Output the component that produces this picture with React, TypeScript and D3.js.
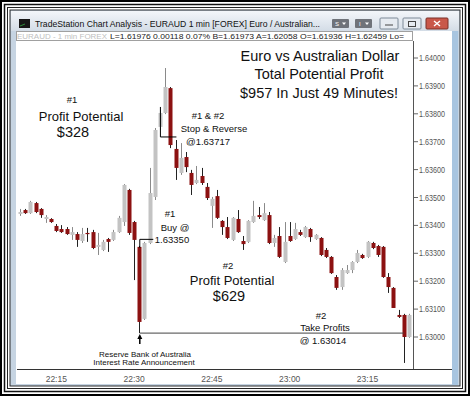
import * as d3 from "d3";

// 1-minute EURAUD bars, first bar closes at 22:08
const START = "22:08";
const opens = [
  1.63441, 1.63455, 1.63444, 1.6348, 1.63459, 1.63423, 1.63423, 1.63398, 1.63387, 1.63387,
  1.63366, 1.63369, 1.63344, 1.63373, 1.63376, 1.63323, 1.63312, 1.63351, 1.63348, 1.63376,
  1.63412, 1.63527, 1.63412, 1.63323, 1.63065, 1.63337, 1.63502, 1.63753, 1.63803, 1.63892,
  1.63674, 1.63588, 1.63645, 1.63588, 1.63552, 1.63577, 1.63538, 1.6347, 1.63505, 1.63416,
  1.63394, 1.63348, 1.63423, 1.63344, 1.63341, 1.63412, 1.63437, 1.63419, 1.63437, 1.63337,
  1.63362, 1.63269, 1.63362, 1.63351, 1.63376, 1.63358, 1.63387, 1.63351, 1.63355, 1.63312,
  1.63287, 1.63215, 1.63179, 1.63229, 1.6324, 1.63269, 1.63294, 1.63287, 1.63337, 1.63326,
  1.63323, 1.63215, 1.63176, 1.63079, 1.63079, 1.63,
];
const highs = [
  1.63459, 1.63459, 1.63488, 1.63484, 1.63462, 1.63437, 1.63426, 1.63405, 1.63401, 1.63394,
  1.63394, 1.63376, 1.63391, 1.63391, 1.63384, 1.63373, 1.63348, 1.63355, 1.63384, 1.63434,
  1.63548, 1.63531, 1.63416, 1.63326, 1.63341, 1.63606, 1.63749, 1.63814, 1.63964, 1.63896,
  1.63706, 1.63695, 1.63663, 1.63599, 1.63613, 1.63606, 1.63552, 1.63502, 1.63527, 1.63419,
  1.6343, 1.6343, 1.63455, 1.63362, 1.63419, 1.63488, 1.63466, 1.6348, 1.63448, 1.63366,
  1.63394, 1.63412, 1.63412, 1.63409, 1.63384, 1.63398, 1.63391, 1.63369, 1.63358, 1.63319,
  1.6329, 1.63222, 1.63247, 1.63258, 1.63272, 1.63312, 1.63298, 1.63344, 1.63341, 1.6333,
  1.63326, 1.63229, 1.63179, 1.63097, 1.63083, 1.63083,
];
const lows = [
  1.63434, 1.63441, 1.63441, 1.63444, 1.63427, 1.63409, 1.63409, 1.63376, 1.63373, 1.63366,
  1.63348, 1.63323, 1.63337, 1.63341, 1.63315, 1.63294, 1.63308, 1.63305, 1.63344, 1.63373,
  1.63398, 1.63366, 1.63204, 1.63014, 1.63061, 1.63333, 1.63491, 1.63742, 1.63799, 1.63677,
  1.63563, 1.63581, 1.63591, 1.63509, 1.63548, 1.63545, 1.63491, 1.63391, 1.63423, 1.63366,
  1.63351, 1.63344, 1.63373, 1.63312, 1.63337, 1.63409, 1.63423, 1.63416, 1.63333, 1.63323,
  1.63283, 1.63265, 1.63341, 1.63348, 1.63362, 1.63355, 1.63341, 1.63348, 1.6329, 1.63283,
  1.63226, 1.63169, 1.63169, 1.63226, 1.63229, 1.63265, 1.6328, 1.63283, 1.63315, 1.63287,
  1.63212, 1.63158, 1.63104, 1.63068, 1.62907, 1.62997,
];
const closes = [
  1.63448, 1.63444, 1.63484, 1.63448, 1.63437, 1.6343, 1.63412, 1.6338, 1.63376, 1.63369,
  1.63376, 1.63348, 1.63369, 1.63369, 1.63319, 1.6333, 1.63341, 1.63341, 1.63376, 1.63427,
  1.63545, 1.63373, 1.63348, 1.63054, 1.63337, 1.63516, 1.63742, 1.63803, 1.63896, 1.63688,
  1.63606, 1.63642, 1.63609, 1.63545, 1.63563, 1.63552, 1.63498, 1.63495, 1.63427, 1.63394,
  1.63355, 1.63427, 1.63376, 1.63333, 1.63416, 1.63434, 1.6343, 1.63444, 1.63337, 1.63355,
  1.63287, 1.63341, 1.63344, 1.63387, 1.63366, 1.63394, 1.63358, 1.63366, 1.63294, 1.63287,
  1.63229, 1.63176, 1.6324, 1.6324, 1.63269, 1.63301, 1.63283, 1.63341, 1.63319, 1.63294,
  1.63215, 1.63179, 1.63104, 1.63072, 1.63, 1.63079,
];
const priceTicks = [1.63, 1.631, 1.632, 1.633, 1.634, 1.635, 1.636, 1.637, 1.638, 1.639, 1.64];
const timeTicks = ["22:15", "22:30", "22:45", "23:00", "23:15"];

// trade levels
const buyPrice = 1.6335;
const stopPrice = 1.63717;
const targetPrice = 1.63014;
const newsBar = 23; // 22:31 bar, the RBA announcement
const stopBar = 29;
const exitBar = 74;

const parse = d3.timeParse("%H:%M");
const t0 = parse(START) as Date;
const times = opens.map((_, i) => d3.timeMinute.offset(t0, i));

const RED = "#8c1111";
const GREY = "#c3c3c3";
const FONT = "'Liberation Sans', Arial, sans-serif";

export default function App() {
  const x = d3.scaleTime().domain([times[0], times[times.length - 1]]).range([20, 409]);
  const y = d3.scaleLinear().domain([1.63, 1.64]).range([337, 58]);
  const fmt = d3.format(".5f");
  const bw = 4;

  const xNews = x(times[newsBar]);
  const xStop = x(times[stopBar]);
  const xExit = x(times[exitBar]);

  return (
    <svg width={470} height={396} style={{ position: "absolute", left: 0, top: 0 }} fontFamily={FONT}>
      <defs>
        <linearGradient id="tb" x1="0" y1="0" x2="0" y2="1">
          <stop offset="0" stopColor="#f3f6fa" />
          <stop offset="1" stopColor="#d3dce6" />
        </linearGradient>
      </defs>
      {/* picture frame */}
      <rect x={0} y={0} width={470} height={396} fill="#fff" />
      <rect x={1} y={1} width={468} height={394} fill="none" stroke="#000" strokeWidth={2} />
      <rect x={4.5} y={4.5} width={461} height={387} fill="none" stroke="#111" strokeWidth={1.5} />
      <rect x={7.5} y={7.5} width={455} height={381} fill="none" stroke="#222" strokeWidth={1} />

      {/* window chrome */}
      <rect x={10} y={10} width={450} height={376} fill="#c6d4e2" stroke="#2a2a2a" />
      <rect x={11} y={11} width={448} height={20} fill="url(#tb)" />
      <rect x={19} y={19} width={11} height={9} fill="#161616" />
      <line x1={20} y1={26} x2={25} y2={24} stroke="#2c8a3a" />
      <text x={35} y={27} fontSize={8.6} fill="#111" textLength={285} lengthAdjust="spacingAndGlyphs">
        TradeStation Chart Analysis - EURAUD 1 min  [FOREX] Euro / Australian...
      </text>
      <rect x={332} y={19} width={17} height={9} rx={1} fill="#6f737a" />
      <text x={335} y={26} fontSize={6} fill="#fff">S</text>
      <path d="M342,22.5 h4 l-2,2.5 z" fill="#fff" />
      <rect x={355} y={19} width={17} height={9} rx={1} fill="#6f737a" />
      <text x={359} y={26} fontSize={6} fill="#fff">I</text>
      <path d="M365,22.5 h4 l-2,2.5 z" fill="#fff" />
      <rect x={380} y={18} width={18} height={11} rx={1} fill="#e6ebf1" stroke="#7d8a98" />
      <line x1={385} y1={25} x2={393} y2={25} stroke="#444" />
      <rect x={403} y={18} width={18} height={11} rx={1} fill="#e6ebf1" stroke="#7d8a98" />
      <rect x={408.5} y={21.5} width={7} height={5} fill="none" stroke="#444" />
      <rect x={426} y={18} width={22} height={11} rx={1} fill="#c9584a" stroke="#7b3028" />
      <path d="M434,21 l6,5 M440,21 l-6,5" stroke="#fff" strokeWidth={1.4} />

      {/* chart panel */}
      <rect x={16} y={31} width={436} height={353} fill="#fff" />
      <rect x={452} y={31} width={6} height={354} fill="#a8c5e0" />
      <rect x={16.5} y={31.5} width={396} height={9} fill="#fff" stroke="#a0a0a0" />
      <text x={17} y={39} fontSize={8} fill="#c0c0c0" textLength={90} lengthAdjust="spacingAndGlyphs">
        EURAUD - 1 min  FOREX
      </text>
      <text x={110} y={39} fontSize={8} fill="#222" textLength={294} lengthAdjust="spacingAndGlyphs">
        L=1.61976  0.00118  0.07%  B=1.61973  A=1.62058  O=1.61936  H=1.62459  Lo=
      </text>

      {/* axes */}
      <line x1={413.5} y1={41} x2={413.5} y2={369} stroke="#555" />
      <line x1={17} y1={369.5} x2={452} y2={369.5} stroke="#333" />
      {priceTicks.map((p) => (
        <g key={p}>
          <line x1={414} y1={y(p)} x2={418} y2={y(p)} stroke="#666" />
          <text x={419} y={y(p) + 3} fontSize={8.5} fill="#555" textLength={26} lengthAdjust="spacingAndGlyphs">
            {fmt(p)}
          </text>
        </g>
      ))}
      {timeTicks.map((tk) => (
        <text key={tk} x={x(parse(tk) as Date)} y={382} fontSize={8.5} fill="#555" textAnchor="middle">
          {tk}
        </text>
      ))}

      {/* candles */}
      {opens.map((o, i) => {
        const c = closes[i];
        const up = c >= o;
        const cx = Math.round(x(times[i]));
        const top = y(Math.max(o, c));
        const h = Math.max(1.2, y(Math.min(o, c)) - top);
        return (
          <g key={i}>
            <line x1={cx + 0.5} x2={cx + 0.5} y1={y(highs[i])} y2={y(lows[i])} stroke={up ? "#8a8a8a" : "#222"} strokeWidth={1} />
            <rect x={cx - bw / 2 + 0.5} y={top} width={bw} height={h} fill={up ? GREY : RED} />
          </g>
        );
      })}

      {/* trade annotations */}
      <path
        d={`M${xStop - 10},${y(stopPrice) - 30} V${y(stopPrice)} H${xStop + 6}`}
        fill="none"
        stroke="#000"
        strokeWidth={1}
      />
      <path
        d={`M${xNews + 0.5},${y(opens[newsBar]) + 1} V${y(buyPrice)} H${xNews + 14}`}
        fill="none"
        stroke="#000"
        strokeWidth={1}
      />
      <path
        d={`M${xNews + 0.5},${y(lows[newsBar])} H${xExit}`}
        fill="none"
        stroke="#444"
        strokeWidth={1}
      />
      <line x1={xNews + 0.5} x2={xNews + 0.5} y1={y(targetPrice) + 4} y2={y(targetPrice) + 11} stroke="#000" strokeWidth={1.5} />
      <path d={`M${xNews - 2},${y(targetPrice) + 6} L${xNews + 0.5},${y(targetPrice) + 1} L${xNews + 3},${y(targetPrice) + 6} Z`} fill="#000" />

      <g fill="#111" textAnchor="middle">
        <text x={320} y={61} fontSize={14.5}>Euro vs Australian Dollar</text>
        <text x={319} y={79} fontSize={14.5}>Total Potential Profit</text>
        <text x={319} y={98} fontSize={14.5}>$957 In Just 49 Minutes!</text>

        <text x={72} y={103} fontSize={9.5}>#1</text>
        <text x={81} y={121} fontSize={13}>Profit Potential</text>
        <text x={73} y={137} fontSize={14.5}>$328</text>

        <text x={208} y={119} fontSize={9.5}>#1 &amp; #2</text>
        <text x={214} y={132} fontSize={9.5}>Stop &amp; Reverse</text>
        <text x={208} y={145} fontSize={9.5}>@{stopPrice}</text>

        <text x={170} y={217} fontSize={9.5}>#1</text>
        <text x={175} y={231} fontSize={9.5}>Buy @</text>
        <text x={172} y={243} fontSize={9.5}>{fmt(buyPrice)}</text>

        <text x={228} y={269} fontSize={9.5}>#2</text>
        <text x={232} y={285} fontSize={13}>Profit Potential</text>
        <text x={229} y={301} fontSize={14.5}>$629</text>

        <text x={321} y={319} fontSize={9.5}>#2</text>
        <text x={325} y={331} fontSize={9.5}>Take Profits</text>
        <text x={323} y={344} fontSize={9.5}>@ {fmt(targetPrice)}</text>

        <text x={145} y={357} fontSize={8}>Reserve Bank of Australia</text>
        <text x={144} y={365} fontSize={8}>Interest Rate Announcement</text>
      </g>
    </svg>
  );
}
